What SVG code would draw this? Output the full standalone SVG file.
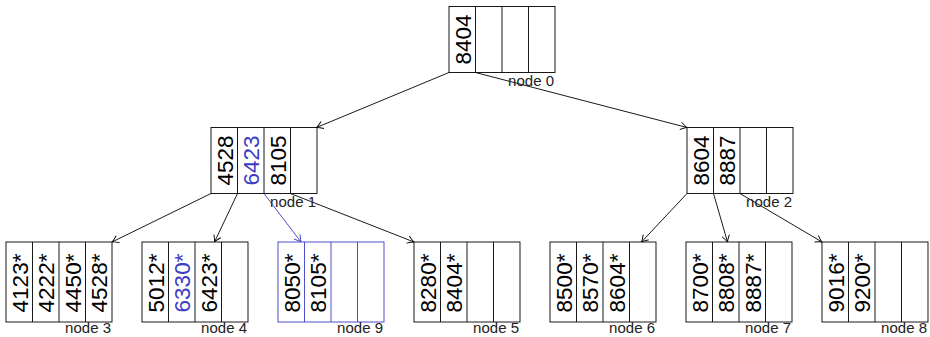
<svg xmlns="http://www.w3.org/2000/svg" width="930" height="337" viewBox="0 0 930 337">
<style>
.box{fill:#fff;stroke:#000;stroke-width:0.9}
.div{stroke:#000;stroke-width:0.9}
.blue .box,.blue .div{stroke:#3c3cc4}
.k{font-family:"Liberation Sans",Arial,sans-serif;font-size:22.5px;fill:#000;text-anchor:middle}
.kb{fill:#3c3cc4}
.lbl{font-family:"Liberation Sans",Arial,sans-serif;font-size:15px;fill:#222;text-anchor:end}
.edge{stroke:#000;stroke-width:0.9;fill:none;marker-end:url(#ah)}
.edgeb{stroke:#3c3cc4;stroke-width:0.9;fill:none;marker-end:url(#ahb)}
</style>
<defs>
<marker id="ah" markerUnits="userSpaceOnUse" markerWidth="12" markerHeight="12" viewBox="-8 -6 10 12" refX="0" refY="0" orient="auto">
<path d="M -6.5 -3.8 Q -2 -0.6 0 0 Q -2 0.6 -6.5 3.8" fill="none" stroke="#000" stroke-width="0.9"/>
</marker>
<marker id="ahb" markerUnits="userSpaceOnUse" markerWidth="12" markerHeight="12" viewBox="-8 -6 10 12" refX="0" refY="0" orient="auto">
<path d="M -6.5 -3.8 Q -2 -0.6 0 0 Q -2 0.6 -6.5 3.8" fill="none" stroke="#3c3cc4" stroke-width="0.9"/>
</marker>
</defs>

<g id="connectors">
<line class="edge" x1="449" y1="72.5" x2="316.5" y2="127.5"/>
<line class="edge" x1="475.5" y1="72.5" x2="687" y2="127.5"/>
<line class="edge" x1="211" y1="193.5" x2="112" y2="242"/>
<line class="edge" x1="237.5" y1="193.5" x2="214.5" y2="242"/>
<line class="edgeb" x1="264" y1="193.5" x2="301" y2="242"/>
<line class="edge" x1="290.5" y1="193.5" x2="414" y2="242"/>
<line class="edge" x1="687" y1="193.5" x2="641.5" y2="242"/>
<line class="edge" x1="713.5" y1="193.5" x2="727.5" y2="242"/>
<line class="edge" x1="740" y1="193.5" x2="822" y2="242"/>
</g>

<g id="node0">
<rect class="box" x="449" y="6.5" width="106" height="66"/>
<line class="div" x1="475.5" y1="6.5" x2="475.5" y2="72.5"/>
<line class="div" x1="502" y1="6.5" x2="502" y2="72.5"/>
<line class="div" x1="528.5" y1="6.5" x2="528.5" y2="72.5"/>
<text class="k" transform="translate(470.5,39.5) rotate(-90)">8404</text>
<text class="lbl" x="554" y="86">node 0</text>
</g>

<g id="node1">
<rect class="box" x="211" y="127.5" width="106" height="66"/>
<line class="div" x1="237.5" y1="127.5" x2="237.5" y2="193.5"/>
<line class="div" x1="264" y1="127.5" x2="264" y2="193.5"/>
<line class="div" x1="290.5" y1="127.5" x2="290.5" y2="193.5"/>
<text class="k" transform="translate(232.5,160.5) rotate(-90)">4528</text>
<text class="k kb" transform="translate(259,160.5) rotate(-90)">6423</text>
<text class="k" transform="translate(285.5,160.5) rotate(-90)">8105</text>
<text class="lbl" x="316" y="207">node 1</text>
</g>

<g id="node2">
<rect class="box" x="687" y="127.5" width="106" height="66"/>
<line class="div" x1="713.5" y1="127.5" x2="713.5" y2="193.5"/>
<line class="div" x1="740" y1="127.5" x2="740" y2="193.5"/>
<line class="div" x1="766.5" y1="127.5" x2="766.5" y2="193.5"/>
<text class="k" transform="translate(708.5,160.5) rotate(-90)">8604</text>
<text class="k" transform="translate(735,160.5) rotate(-90)">8887</text>
<text class="lbl" x="792" y="207">node 2</text>
</g>

<g id="node3">
<rect class="box" x="6" y="242" width="106" height="80"/>
<line class="div" x1="32.5" y1="242" x2="32.5" y2="322"/>
<line class="div" x1="59" y1="242" x2="59" y2="322"/>
<line class="div" x1="85.5" y1="242" x2="85.5" y2="322"/>
<text class="k" transform="translate(27.5,283) rotate(-90)">4123*</text>
<text class="k" transform="translate(54,283) rotate(-90)">4222*</text>
<text class="k" transform="translate(80.5,283) rotate(-90)">4450*</text>
<text class="k" transform="translate(107,283) rotate(-90)">4528*</text>
<text class="lbl" x="111" y="333">node 3</text>
</g>

<g id="node4">
<rect class="box" x="142" y="242" width="106" height="80"/>
<line class="div" x1="168.5" y1="242" x2="168.5" y2="322"/>
<line class="div" x1="195" y1="242" x2="195" y2="322"/>
<line class="div" x1="221.5" y1="242" x2="221.5" y2="322"/>
<text class="k" transform="translate(163.5,283) rotate(-90)">5012*</text>
<text class="k kb" transform="translate(190,283) rotate(-90)">6330*</text>
<text class="k" transform="translate(216.5,283) rotate(-90)">6423*</text>
<text class="lbl" x="247" y="333">node 4</text>
</g>

<g id="node9" class="blue">
<rect class="box" x="278" y="242" width="106" height="80"/>
<line class="div" x1="304.5" y1="242" x2="304.5" y2="322"/>
<line class="div" x1="331" y1="242" x2="331" y2="322"/>
<line class="div" x1="357.5" y1="242" x2="357.5" y2="322"/>
<text class="k" transform="translate(299.5,283) rotate(-90)">8050*</text>
<text class="k" transform="translate(326,283) rotate(-90)">8105*</text>
<text class="lbl" x="383" y="333">node 9</text>
</g>

<g id="node5">
<rect class="box" x="414" y="242" width="106" height="80"/>
<line class="div" x1="440.5" y1="242" x2="440.5" y2="322"/>
<line class="div" x1="467" y1="242" x2="467" y2="322"/>
<line class="div" x1="493.5" y1="242" x2="493.5" y2="322"/>
<text class="k" transform="translate(435.5,283) rotate(-90)">8280*</text>
<text class="k" transform="translate(462,283) rotate(-90)">8404*</text>
<text class="lbl" x="519" y="333">node 5</text>
</g>

<g id="node6">
<rect class="box" x="550" y="242" width="106" height="80"/>
<line class="div" x1="576.5" y1="242" x2="576.5" y2="322"/>
<line class="div" x1="603" y1="242" x2="603" y2="322"/>
<line class="div" x1="629.5" y1="242" x2="629.5" y2="322"/>
<text class="k" transform="translate(571.5,283) rotate(-90)">8500*</text>
<text class="k" transform="translate(598,283) rotate(-90)">8570*</text>
<text class="k" transform="translate(624.5,283) rotate(-90)">8604*</text>
<text class="lbl" x="655" y="333">node 6</text>
</g>

<g id="node7">
<rect class="box" x="686" y="242" width="106" height="80"/>
<line class="div" x1="712.5" y1="242" x2="712.5" y2="322"/>
<line class="div" x1="739" y1="242" x2="739" y2="322"/>
<line class="div" x1="765.5" y1="242" x2="765.5" y2="322"/>
<text class="k" transform="translate(707.5,283) rotate(-90)">8700*</text>
<text class="k" transform="translate(734,283) rotate(-90)">8808*</text>
<text class="k" transform="translate(760.5,283) rotate(-90)">8887*</text>
<text class="lbl" x="791" y="333">node 7</text>
</g>

<g id="node8">
<rect class="box" x="822" y="242" width="106" height="80"/>
<line class="div" x1="848.5" y1="242" x2="848.5" y2="322"/>
<line class="div" x1="875" y1="242" x2="875" y2="322"/>
<line class="div" x1="901.5" y1="242" x2="901.5" y2="322"/>
<text class="k" transform="translate(843.5,283) rotate(-90)">9016*</text>
<text class="k" transform="translate(870,283) rotate(-90)">9200*</text>
<text class="lbl" x="927" y="333">node 8</text>
</g>
</svg>
